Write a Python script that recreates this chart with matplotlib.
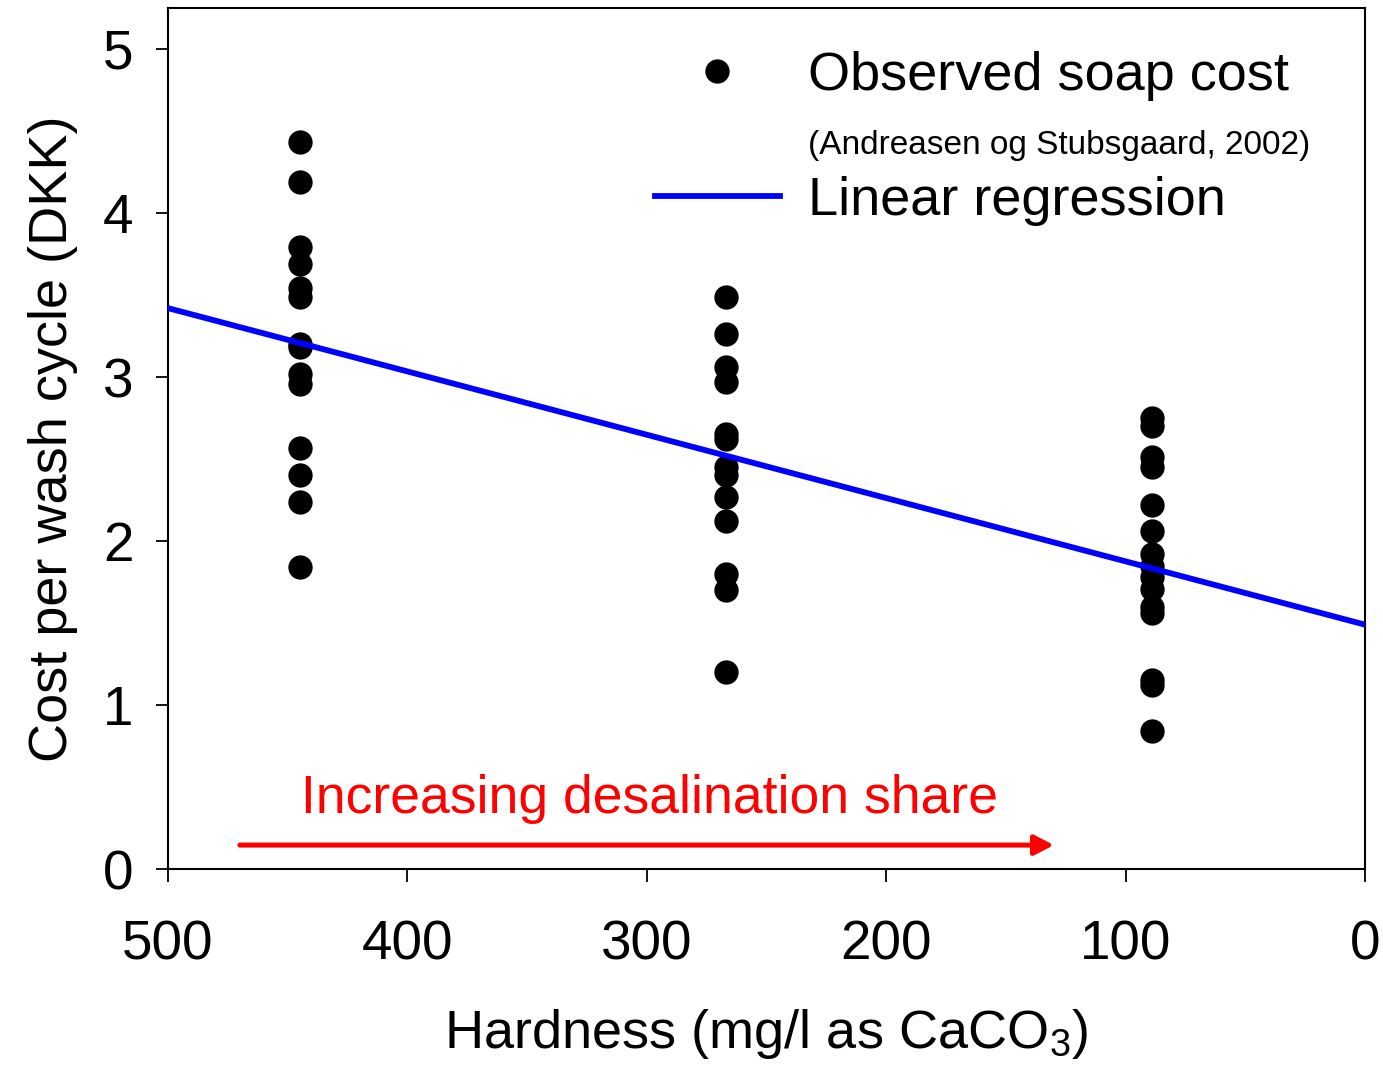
import numpy as np
import matplotlib
matplotlib.use("Agg")
import matplotlib.pyplot as plt
from matplotlib.lines import Line2D

plt.rcParams["font.family"] = ["Liberation Sans", "DejaVu Sans"]
plt.rcParams["mathtext.fontset"] = "custom"
plt.rcParams["mathtext.rm"] = "Liberation Sans"

# Hardness levels (mg/l as CaCO3) and observed soap cost per wash cycle (DKK)
hardness_levels = [445, 267, 89]
cost_445 = [4.43, 4.19, 3.79, 3.69, 3.54, 3.49, 3.20, 3.18, 3.02, 2.96, 2.57, 2.40, 2.24, 1.84]
cost_267 = [3.49, 3.26, 3.06, 2.97, 2.65, 2.62, 2.45, 2.40, 2.27, 2.12, 1.80, 1.70, 1.20]
cost_89 = [2.75, 2.70, 2.51, 2.45, 2.22, 2.06, 1.92, 1.85, 1.78, 1.71, 1.60, 1.56, 1.15, 1.12, 0.84]

# regression line as drawn in the figure
reg_intercept = 1.49
reg_slope = 0.00386
reg_x = np.array([500, 0])

fig, ax = plt.subplots(figsize=(13.83, 10.65), dpi=100)
fig.subplots_adjust(left=0.1215, right=0.987, top=0.9925, bottom=0.184)

xs = []
ys = []
for h, vals in zip(hardness_levels, [cost_445, cost_267, cost_89]):
    xs += [h] * len(vals)
    ys += vals
ax.plot(xs, ys, "o", color="black", markersize=16.5, linestyle="none", zorder=3)

ax.plot(reg_x, reg_intercept + reg_slope * reg_x, color="#0000ff", linewidth=4.2, zorder=4)

# arrow and text
ax.annotate("", xy=(130, 0.146), xytext=(470, 0.146),
            arrowprops=dict(arrowstyle="-|>,head_length=1.15,head_width=0.6",
                            color="red", lw=3.6, shrinkA=0, shrinkB=0))
ax.text(299, 0.43, "Increasing desalination share", color="red", fontsize=38.5,
        ha="center", va="center")

ax.set_xlim(500, 0)
ax.set_ylim(0, 5.25)
ax.set_xticks([500, 400, 300, 200, 100, 0])
ax.set_yticks([0, 1, 2, 3, 4, 5])
ax.tick_params(axis="both", direction="out", length=9, width=1.3, labelsize=39.5)
ax.tick_params(axis="x", pad=27)
ax.tick_params(axis="y", pad=16)
for s in ax.spines.values():
    s.set_linewidth(1.5)

ax.set_xlabel(r"Hardness (mg/l as CaCO$_\mathregular{3}$)", fontsize=39, labelpad=26)
ax.set_ylabel("Cost per wash cycle (DKK)", fontsize=39, labelpad=18)

handles = [
    Line2D([], [], marker="o", color="black", markersize=16.5, linestyle="none"),
    Line2D([], [], linestyle="none"),
    Line2D([], [], color="#0000ff", linewidth=4.2),
]
labels = ["Observed soap cost", "(Andreasen og Stubsgaard, 2002)", "Linear regression"]
leg = ax.legend(handles, labels, loc="upper left", bbox_to_anchor=(0.407, 0.950),
                frameon=False, fontsize=39, handlelength=2.3, handletextpad=0.52,
                borderpad=0, borderaxespad=0, labelspacing=0.28)
leg.get_texts()[1].set_fontsize(24)

fig.savefig("out.png", dpi=100)
